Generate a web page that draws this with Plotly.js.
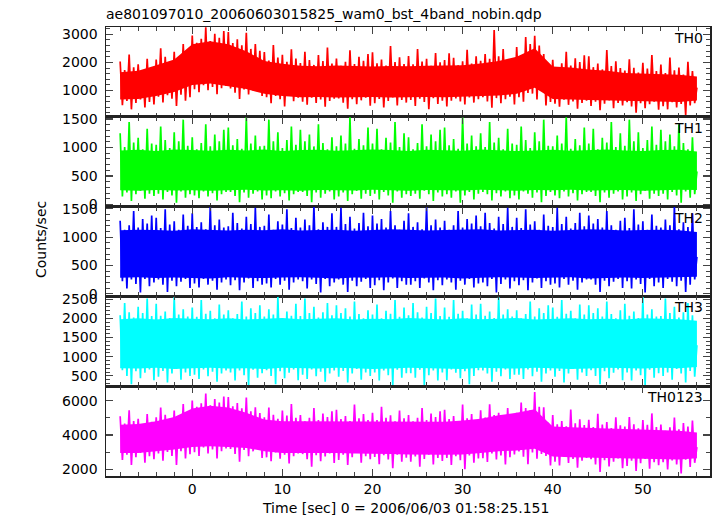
<!DOCTYPE html>
<html>
<head>
<meta charset="utf-8">
<script src="https://cdn.plot.ly/plotly-3.0.1.min.js"></script>
<style>html,body{margin:0;padding:0;background:#fff;}#chart{width:717px;height:516px;}</style>
</head>
<body>
<div id="chart"></div>
<script>
// Light-curve samples every 0.25 s from -8 s to 56 s
const T_START = -8;
const T_STEP = 0.25;
// Dense-band (solid core) envelope read every 2 s from -8 s to 56 s
const CORE_START = -8;
const CORE_STEP = 2;

const seriesNames = ["TH0", "TH1", "TH2", "TH3", "TH0123"];
const seriesColors = ["#ff0000", "#00ff00", "#0000ff", "#00ffff", "#ff00ff"];

const th0 = [
2030,480,1730,630,2280,330,1830,560,1930,680,1680,400,2130,590,1800,500,
2100,780,2500,570,2200,830,2030,710,2380,450,2170,850,2650,640,2080,760,
2960,1050,2700,940,2840,1190,3250,1010,2760,1130,3020,870,2880,1080,3120,1160,
3080,1070,2690,920,2820,700,2610,1040,3050,860,2480,1000,2650,1090,2410,810,
2370,760,2070,550,2620,810,2170,690,2270,430,2020,830,2470,620,2140,740,
1980,600,2380,490,2080,740,1910,560,2260,680,2050,420,2530,630,1960,710,
2140,720,1880,570,2020,350,2430,690,1940,510,2200,650,2060,740,2300,460,
2360,550,1970,700,2100,400,1890,630,2580,750,2010,470,2180,660,1940,570,
2230,660,1930,450,2480,710,2030,590,2130,330,1880,730,2330,520,2000,640,
2080,430,2320,640,2160,720,1900,610,2040,500,2450,750,1960,570,2220,690,
2060,760,2300,610,2130,390,3150,730,2220,550,2480,690,2010,780,2090,500,
2550,760,2250,600,2900,910,2650,890,2950,680,2600,1080,2300,470,1970,590,
2090,530,1830,420,1970,670,2380,490,1890,610,2150,350,2010,560,2250,640,
2220,450,1830,600,1960,300,1750,530,2440,650,1870,370,2040,560,1800,470,
1710,580,2110,430,1810,210,1640,550,1990,370,1780,510,2260,600,1690,320,
1920,440,1620,330,2170,580,1720,400,1820,520,1570,130,2020,470,1690,550,
1100];

const th1 = [
1250,140,1010,210,1450,60,1090,180,1170,240,970,100,1330,190,1070,150,
1050,190,1370,90,1130,220,990,160,1270,30,1110,230,1490,120,1030,180,
1180,160,970,110,1080,230,1410,140,1020,200,1230,70,1110,180,1310,220,
1350,220,1040,150,1150,40,980,210,1530,120,1070,190,1210,230,1020,90,
1030,160,1490,110,1110,230,1270,140,990,200,1130,70,1370,180,1050,220,
1310,220,1110,150,1230,40,1020,210,1410,120,1080,190,970,230,1180,90,
1020,140,1210,210,1070,60,1530,180,980,240,1150,100,1040,190,1350,150,
1070,190,1330,90,970,220,1170,160,1090,30,1450,230,1010,120,1250,180,
1180,150,970,190,1080,100,1410,240,1020,180,1230,60,1110,210,1310,140,
1350,180,1040,120,1150,230,980,30,1530,160,1070,220,1210,90,1020,190,
1250,220,1010,180,1450,70,1090,200,1170,140,970,230,1330,110,1070,160,
1050,90,1370,230,1130,190,990,120,1270,210,1110,40,1490,150,1030,220,
1020,160,1210,110,1070,230,1530,140,980,200,1150,70,1040,180,1350,220,
1070,220,1330,150,970,40,1170,210,1090,120,1450,190,1010,230,1250,90,
1030,140,1490,210,1110,60,1270,180,990,240,1130,100,1370,190,1050,150,
1310,190,1110,90,1230,220,1020,160,1410,30,1080,230,970,120,1180,180,
580];

const th2 = [
1290,220,1130,90,1210,250,1460,170,1170,20,1320,260,1240,130,1380,200,
1340,250,1160,160,1490,30,1220,230,1280,130,1130,210,1400,260,1200,100,
1420,180,1180,110,1260,260,1140,160,1550,230,1210,70,1310,200,1170,250,
1190,150,1430,240,1250,60,1150,200,1360,270,1230,100,1520,220,1180,160,
1200,180,1400,110,1130,260,1280,160,1220,230,1490,70,1160,200,1340,250,
1170,220,1310,90,1210,250,1550,170,1140,20,1260,260,1180,130,1420,200,
1180,250,1520,160,1230,30,1360,230,1150,130,1250,210,1430,260,1190,100,
1380,150,1240,240,1320,60,1170,200,1460,270,1210,100,1130,220,1290,160,
1420,160,1180,220,1260,100,1140,270,1550,200,1210,60,1310,240,1170,150,
1290,250,1130,200,1210,70,1460,230,1170,160,1320,260,1240,110,1380,180,
1190,200,1430,130,1250,260,1150,20,1360,170,1230,250,1520,90,1180,220,
1340,150,1160,240,1490,60,1220,200,1280,270,1130,100,1400,220,1200,160,
1180,180,1520,110,1230,260,1360,160,1150,230,1250,70,1430,200,1190,250,
1380,250,1240,160,1320,30,1170,230,1460,130,1210,210,1130,260,1290,100,
1340,220,1160,90,1490,250,1220,170,1280,20,1130,260,1400,130,1200,200,
1170,100,1310,260,1210,210,1550,130,1140,230,1260,30,1180,160,1420,250,
650];

const th3 = [
2080,650,2400,500,2160,280,2020,620,2300,440,2140,580,2520,670,2060,390,
2380,480,2070,630,2180,330,2010,560,2560,680,2100,400,2240,590,2050,500,
2280,530,2040,420,2480,670,2120,490,2200,610,2000,350,2360,560,2100,640,
2210,590,2000,380,2110,640,2440,520,2050,260,2260,660,2140,450,2340,570,
2050,650,2240,500,2100,280,2560,620,2010,440,2180,580,2070,670,2380,390,
2060,530,2520,420,2140,670,2300,490,2020,610,2160,350,2400,560,2080,640,
2340,480,2140,630,2260,330,2050,560,2440,680,2110,400,2000,590,2210,500,
2100,590,2360,380,2000,640,2200,520,2120,260,2480,660,2040,450,2280,570,
2080,570,2400,450,2160,660,2020,260,2300,520,2140,640,2520,380,2060,590,
2280,390,2040,670,2480,580,2120,440,2200,620,2000,280,2360,500,2100,650,
2380,640,2070,560,2180,350,2010,610,2560,490,2100,670,2240,420,2050,530,
2210,530,2000,420,2110,670,2440,490,2050,610,2260,350,2140,560,2340,640,
2280,480,2040,630,2480,330,2120,560,2200,680,2000,400,2360,590,2100,500,
2340,650,2140,500,2260,280,2050,620,2440,440,2110,580,2000,670,2210,390,
2380,590,2070,380,2180,640,2010,520,2560,260,2100,660,2240,450,2050,570,
2060,500,2520,590,2140,400,2300,680,2020,560,2160,330,2400,630,2080,480,
1300];

const th0123 = [
5090,2550,4670,2850,5440,2250,4810,2710,4950,2950,4600,2390,5230,2770,4770,2590,
5040,2920,5600,2500,5180,3020,4940,2780,5430,2260,5140,3060,5810,2640,5010,2880,
6010,3000,5650,2780,5850,3280,6420,2920,5730,3160,6100,2640,5900,3060,6240,3220,
6220,3190,5680,2890,5860,2450,5560,3130,6180,2770,5380,3050,5620,3230,5280,2670,
5040,2700,5600,2480,5180,2980,4940,2620,5430,2860,5140,2340,5810,2760,5010,2920,
5160,2890,4800,2590,5000,2150,5570,2830,4880,2470,5250,2750,5050,2930,5390,2370,
5470,2550,4930,2850,5110,2250,4810,2710,5780,2950,4980,2390,5220,2770,4880,2590,
5290,2720,4870,2300,5640,2820,5010,2580,5150,2060,4800,2860,5430,2440,4970,2680,
5160,2450,4800,2750,5000,2150,5570,2610,4880,2850,5250,2290,5050,2670,5390,2490,
5470,2670,4930,2250,5110,2770,4810,2530,5780,2010,4980,2810,5220,2390,4880,2630,
5440,2650,5020,2430,5790,2930,5160,2570,5300,2810,4950,2290,5580,2710,5120,2870,
5290,3040,5900,2740,5580,2300,5440,2980,6500,2620,5640,2900,5610,2780,4710,2220,
5170,2450,4630,2230,4810,2730,4510,2370,5480,2610,4680,2090,4920,2510,4580,2670,
4890,2590,4470,2290,5240,1850,4610,2530,4750,2170,4400,2450,5030,2630,4570,2070,
4490,2200,5050,2500,4630,1900,4390,2360,4880,2600,4590,2040,5260,2420,4460,2240,
4610,2420,4250,2000,4450,2520,5020,2280,4330,1760,4700,2560,4500,2140,4840,2380,
3300];

// Solid core of each band: lower / upper edge, every 2 s
const th0CoreLo = [680,700,800,950,1200,1250,1150,1050,880,800,760,770,750,760,770,750,760,770,760,780,800,820,880,1100,700,680,660,650,620,610,600,590,640];
const th0CoreHi = [1650,1700,1900,2100,2650,2750,2650,2400,2050,1950,1880,1860,1890,1870,1850,1870,1860,1880,1890,1900,1960,2050,2200,2500,1850,1820,1750,1700,1620,1600,1570,1560,1500];
const th1CoreLo = [250,240,255,245,250,240,250,260,245,250,240,255,250,245,260,250,240,255,250,245,260,250,240,255,250,260,245,250,255,240,250,260,255];
const th1CoreHi = [950,960,940,965,955,945,960,950,965,940,955,960,945,950,965,955,940,960,950,945,965,955,940,950,960,945,955,965,950,940,955,960,930];
const th2CoreLo = [280,290,275,285,280,270,290,280,275,285,290,280,270,285,280,290,275,280,285,270,280,290,285,275,280,290,270,280,285,275,280,290,300];
const th2CoreHi = [1120,1130,1125,1110,1140,1125,1115,1130,1120,1140,1115,1125,1130,1110,1125,1140,1130,1115,1125,1130,1140,1115,1125,1130,1110,1125,1140,1130,1115,1125,1130,1120,1090];
const th3CoreLo = [700,690,710,680,700,710,690,700,680,710,700,690,710,700,680,690,710,700,690,680,710,700,690,710,700,680,690,710,700,690,710,700,730];
const th3CoreHi = [1980,2000,1970,2010,1990,1980,2000,1970,1990,2010,1980,1990,2000,1970,1990,1980,2010,1990,1970,2000,1980,1990,2010,1970,1990,2000,1980,1990,1970,2000,1990,1980,1940];
const th0123CoreLo = [2950,2950,3050,3150,3300,3350,3300,3250,3050,2950,2950,2950,2950,2920,2900,2900,2870,2850,2850,2870,2950,3050,3100,3200,2750,2700,2650,2640,2620,2600,2600,2580,2650];
const th0123CoreHi = [4600,4650,4800,5050,5550,5700,5600,5300,4900,4800,4800,4800,4800,4780,4780,4800,4800,4800,4780,4850,4950,5150,5300,5500,4500,4450,4400,4380,4350,4330,4280,4250,4150];

const seriesData = [th0, th1, th2, th3, th0123];
const coreLo = [th0CoreLo, th1CoreLo, th2CoreLo, th3CoreLo, th0123CoreLo];
const coreHi = [th0CoreHi, th1CoreHi, th2CoreHi, th3CoreHi, th0123CoreHi];

// Axis settings per panel (top to bottom)
const yRanges = [[64, 3260], [-37, 1540], [-48, 1539], [231, 2573], [1612, 6846]];
const yDticks = [1000, 500, 500, 500, 2000];
const yMinor = [200, 100, 100, 100, 1000];
const xRange = [-9.57, 57.45];

const times = th0.map((_, i) => T_START + i * T_STEP);
const coreTimes = th0CoreLo.map((_, i) => CORE_START + i * CORE_STEP);

const FONT = 'DejaVu Sans, Liberation Sans, sans-serif';
const traces = [];
seriesData.forEach((vals, i) => {
  const xa = i === 0 ? 'x' : 'x' + (i + 1);
  const ya = i === 0 ? 'y' : 'y' + (i + 1);
  traces.push({
    x: coreTimes.concat(coreTimes.slice().reverse()),
    y: coreHi[i].concat(coreLo[i].slice().reverse()),
    type: 'scatter', mode: 'lines', fill: 'toself',
    fillcolor: seriesColors[i], line: {width: 0, color: seriesColors[i]},
    xaxis: xa, yaxis: ya, hoverinfo: 'skip', showlegend: false
  });
  traces.push({
    x: times, y: vals, type: 'scatter', mode: 'lines',
    xaxis: xa, yaxis: ya,
    line: {color: seriesColors[i], width: 1.7, simplify: false},
    hoverinfo: 'skip', showlegend: false
  });
});

const layout = {
  width: 717, height: 516,
  margin: {l: 106, r: 7, t: 27, b: 40, pad: 0},
  paper_bgcolor: '#fff', plot_bgcolor: '#fff',
  showlegend: false,
  font: {family: FONT, size: 14, color: '#000'},
  title: {
    text: 'ae801097010_20060603015825_wam0_bst_4band_nobin.qdp',
    font: {family: FONT, size: 14, color: '#000'},
    x: 106 / 717, xref: 'container', xanchor: 'left',
    y: 1 - 14 / 516, yref: 'container', yanchor: 'middle'
  },
  annotations: []
};

const n = seriesData.length;
for (let i = 0; i < n; i++) {
  const sfx = i === 0 ? '' : String(i + 1);
  const top = 1 - i / n, bot = 1 - (i + 1) / n;
  layout['xaxis' + sfx] = {
    domain: [0, 1], anchor: 'y' + sfx, range: xRange,
    showline: true, linecolor: '#222', linewidth: 1.5, mirror: 'allticks',
    ticks: 'inside', ticklen: 7, tickwidth: 1.2, tickcolor: '#444',
    tick0: 0, dtick: 10,
    minor: {dtick: 2, ticks: 'inside', ticklen: 4, tickwidth: 1, tickcolor: '#444'},
    showticklabels: i === n - 1, showgrid: false, zeroline: false,
    tickfont: {family: FONT, size: 14, color: '#000'}
  };
  layout['yaxis' + sfx] = {
    domain: [bot, top], anchor: 'x' + sfx, range: yRanges[i],
    showline: true, linecolor: '#222', linewidth: 1.5, mirror: 'allticks',
    ticks: 'inside', ticklen: 7, tickwidth: 1.2, tickcolor: '#444',
    tick0: 0, dtick: yDticks[i],
    minor: {dtick: yMinor[i], ticks: 'inside', ticklen: 4, tickwidth: 1, tickcolor: '#444'},
    showgrid: false, zeroline: false, ticklabelstandoff: 4,
    tickfont: {family: FONT, size: 14, color: '#000'}
  };
  layout.annotations.push({
    text: seriesNames[i], xref: 'paper', yref: 'paper',
    x: 1, xanchor: 'right', xshift: -5, y: top, yanchor: 'top', yshift: -1,
    showarrow: false, font: {family: FONT, size: 14, color: '#000'}
  });
}

layout.annotations.push({
  text: 'Counts/sec', xref: 'paper', yref: 'paper',
  x: (41 - 106) / 604, y: (476 - 240) / 449, xanchor: 'center', yanchor: 'middle',
  textangle: -90, showarrow: false, font: {family: FONT, size: 14, color: '#000'}
});
layout.annotations.push({
  text: 'Time [sec] 0 = 2006/06/03 01:58:25.151', xref: 'paper', yref: 'paper',
  x: (405 - 106) / 604, y: (476 - 508) / 449, xanchor: 'center', yanchor: 'middle',
  showarrow: false, font: {family: FONT, size: 14, color: '#000'}
});

Plotly.newPlot('chart', traces, layout, {staticPlot: true, displayModeBar: false});
</script>
</body>
</html>
